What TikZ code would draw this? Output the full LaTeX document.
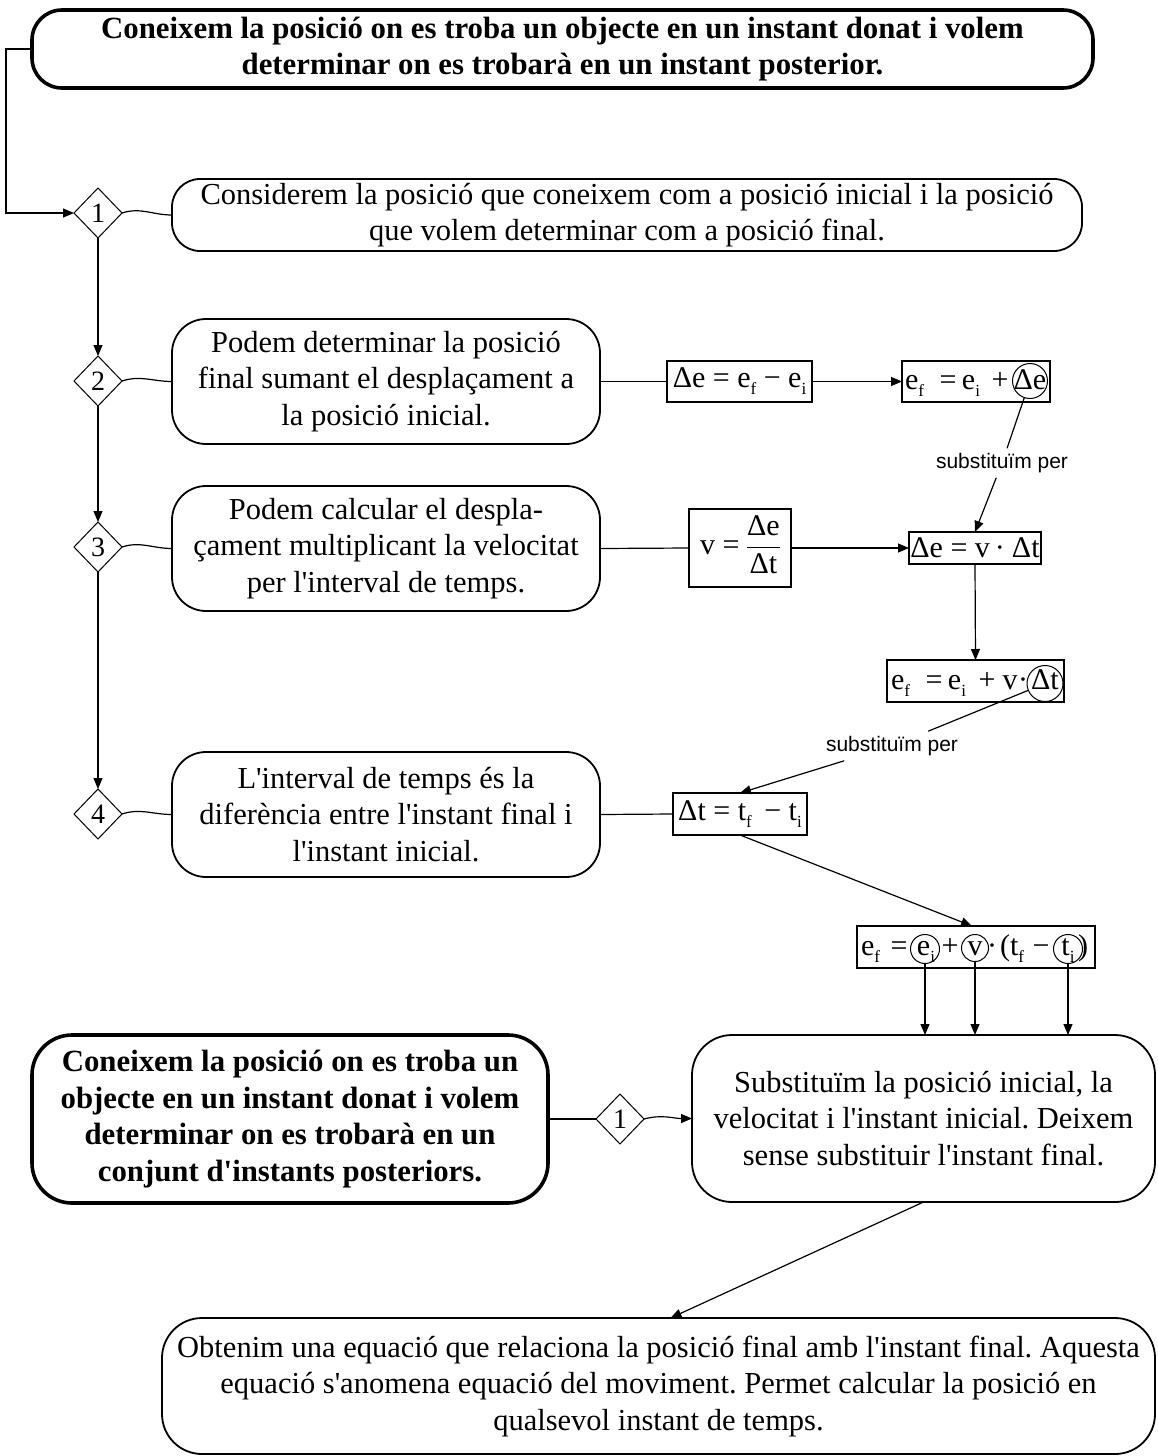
\documentclass[tikz,border=0pt]{standalone}
\usepackage{fontspec}
\setmainfont{Liberation Serif}[Ligatures=TeXOff]
\newfontfamily\lblfont{Liberation Sans}
\usetikzlibrary{arrows.meta,shapes.geometric}
\newcommand{\sbs}[1]{\raisebox{-7pt}{\fontsize{17}{17}\selectfont #1}}
\frenchspacing
\begin{document}
\begin{tikzpicture}[x=1pt,y=-1pt,
  every node/.style={inner sep=0pt, outer sep=0pt},
  rbox/.style={draw, line width=1.8pt, rounded corners=34pt, align=center, font=\fontsize{30.5}{36.5}\selectfont},
  thickbox/.style={rbox, line width=3.6pt, font=\fontsize{30.8}{36.5}\selectfont\bfseries},
  dia/.style={draw, diamond, line width=1pt, minimum width=48pt, minimum height=50pt, font=\fontsize{28}{30}\selectfont},
  fbox/.style={draw, line width=1.2pt, font=\fontsize{30}{32}\selectfont},
  fbare/.style={draw=none, font=\fontsize{30}{32}\selectfont},
  ring/.style={draw, circle, line width=1pt},
  conn/.style={line width=1.2pt},
  arr/.style={conn, -{Triangle[length=11pt,width=9pt]}},
  lbl/.style={inner sep=5pt, font=\lblfont\fontsize{21}{24}\selectfont}
]
\useasboundingbox (0,0) rectangle (1157,1456);
\fill[white] (0,0) rectangle (1157,1456);

% main boxes
\node[thickbox, minimum width=1061pt, minimum height=78pt, rounded corners=30pt] (top) at (562.5,49)
  {Coneixem la posició on es troba un objecte en un instant donat i volem\\determinar on es trobarà en un instant posterior.};
\node[rbox, minimum width=910pt, minimum height=72pt, rounded corners=28pt] (b1) at (627,215)
  {Considerem la posició que coneixem com a posició inicial i la posició\\que volem determinar com a posició final.};
\node[rbox, minimum width=428pt, minimum height=125pt] (b2) at (386,381.5)
  {Podem determinar la posició\\final sumant el desplaçament a\\la posició inicial.};
\node[rbox, minimum width=428pt, minimum height=125pt] (b3) at (386,548.5)
  {Podem calcular el despla-\\çament multiplicant la velocitat\\per l'interval de temps.};
\node[rbox, minimum width=428pt, minimum height=125pt] (b4) at (386,814.5)
  {L'interval de temps és la\\diferència entre l'instant final i\\l'instant inicial.};
\node[thickbox, minimum width=516pt, minimum height=168pt, rounded corners=40pt] (lb) at (290,1119)
  {Coneixem la posició on es troba un\\objecte en un instant donat i volem\\determinar on es trobarà en un\\conjunt d'instants posteriors.};
\node[rbox, minimum width=463pt, minimum height=167pt, rounded corners=40pt] (rb) at (923.5,1118.5)
  {Substituïm la posició inicial, la\\velocitat i l'instant inicial. Deixem\\sense substituir l'instant final.};
\node[rbox, minimum width=993pt, minimum height=136pt, rounded corners=40pt] (bb) at (658.5,1386)
  {Obtenim una equació que relaciona la posició final amb l'instant final. Aquesta\\equació s'anomena equació del moviment. Permet calcular la posició en\\qualsevol instant de temps.};

% diamonds
\node[dia] (d1) at (98,213) {1};
\node[dia] (d2) at (98,381) {2};
\node[dia] (d3) at (98,547) {3};
\node[dia] (d4) at (98,814) {4};
\node[dia] (d5) at (620,1119) {1};

% formula boxes
\node[fbox, minimum width=145pt, minimum height=41pt] (f1) at (739.5,381.5) {Δe = e\sbs{f} − e\sbs{i}};
\node[fbox, minimum width=102pt, minimum height=78pt] (f3) at (740,548)
  {v = {\setlength{\arrayrulewidth}{1.2pt}\begin{tabular}{@{}c@{}}Δe\\[2pt]\hline\noalign{\vskip 3pt}Δt\end{tabular}}};
\node[fbox, minimum width=132pt, minimum height=32pt] (f4) at (975,548) {Δe = v\hspace{5pt}·\hspace{7pt}Δt};
\node[fbox, minimum width=134pt, minimum height=42pt] (f6) at (740,814) {Δt = t\sbs{f}\, − t\sbs{i}};

% formula e_f = e_i + (Δe)
\node[fbox, minimum width=148pt, minimum height=41pt] (f2) at (976,381.5) {};
\node[fbare, anchor=base west] (f2a) at (905,389.5) {e\sbs{f}};
\node[fbare, anchor=base] (f2b) at (948,389.5) {=};
\node[fbare, anchor=base] (f2c) at (971,389.5) {e\sbs{i}};
\node[fbare, anchor=base] (f2d) at (1000,389.5) {+};
\node[fbare, anchor=base] (f2e) at (1030,389.5) {Δe};
\node[ring, minimum size=35pt] (c1) at (1030,381) {};

% formula e_f = e_i + v · (Δt)
\node[fbox, minimum width=177pt, minimum height=42pt] (f5) at (975.5,681) {};
\node[fbare, anchor=base west] (f5a) at (891,689) {e\sbs{f}};
\node[fbare, anchor=base] (f5b) at (934,689) {=};
\node[fbare, anchor=base] (f5c) at (957,689) {e\sbs{i}};
\node[fbare, anchor=base] (f5d) at (987,689) {+};
\node[fbare, anchor=base] (f5e) at (1010,689) {v};
\node[fbare, anchor=base] (f5f) at (1023,689) {·};
\node[fbare, anchor=base] (f5g) at (1045,689) {Δt};
\node[ring, minimum size=36pt] (c2) at (1045,683.5) {};

% formula e_f = (e_i) + (v) · (t_f - (t_i))
\node[fbox, minimum width=238pt, minimum height=42pt] (f7) at (976,947) {};
\node[fbare, anchor=base west] (f7a) at (861,955) {e\sbs{f}};
\node[fbare, anchor=base] (f7b) at (899,955) {=};
\node[fbare, anchor=base] (f7c) at (926,955) {e\sbs{i}};
\node[fbare, anchor=base] (f7d) at (950,955) {+};
\node[fbare, anchor=base] (f7e) at (975,955) {v};
\node[fbare, anchor=base] (f7f) at (992,955) {·};
\node[fbare, anchor=base west] (f7g) at (1000,955) {(t\sbs{f}};
\node[fbare, anchor=base] (f7h) at (1041,955) {−};
\node[fbare, anchor=base] (f7i) at (1068,955) {t\sbs{i}};
\node[fbare, anchor=base west] (f7j) at (1078,955) {)};
\node[ring, minimum size=29pt] (c3) at (925,949) {};
\node[ring, minimum size=27pt] (c4) at (975,948) {};
\node[ring, minimum size=29pt] (c5) at (1068,949) {};

% labels
\node[lbl] (s1) at (1002,463) {substituïm per};
\node[lbl] (s2) at (892,746) {substituïm per};

% connectors
\draw[arr] (top.west) -- ++(-26,0) |- (d1.west);
\draw[arr] (d1.south) -- (d2.north);
\draw[arr] (d2.south) -- (d3.north);
\draw[arr] (d3.south) -- (d4.north);
\draw[conn] (d1.east) to[out=18,in=180] (b1.west);
\draw[conn] (d2.east) to[out=18,in=180] (b2.west);
\draw[conn] (d3.east) to[out=18,in=180] (b3.west);
\draw[conn] (d4.east) to[out=18,in=180] (b4.west);
\draw[conn] (b2.east) -- (f1.west);
\draw[arr] (f1.east) -- (f2.west);
\draw[conn] (b3.east) -- (f3.west);
\draw[arr] (f3.east) -- (f4.west);
\draw[conn] (c1) -- (s1);
\draw[arr] (s1) -- (f4.north);
\draw[arr] (f4.south) -- (f5.north);
\draw[conn] (c2) -- (s2);
\draw[arr] (s2) -- (f6.north);
\draw[conn] (b4.east) -- (f6.west);
\draw[arr] (f6.south) -- ([xshift=-4pt]f7.north);
\draw[arr] (c3.south) -- (c3.south |- rb.north);
\draw[arr] (c4.south) -- (c4.south |- rb.north);
\draw[arr] (c5.south) -- (c5.south |- rb.north);
\draw[conn] (lb.east) -- (d5.west);
\draw[arr] (d5.east) to[out=15,in=180] (rb.west);
\draw[arr] (rb.south) -- ([xshift=12pt]bb.north);
\end{tikzpicture}
\end{document}
